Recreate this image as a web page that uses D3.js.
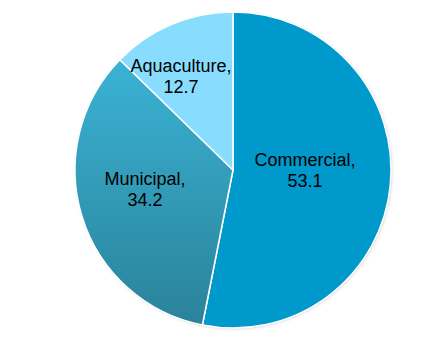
<!DOCTYPE html>
<html><head><meta charset="utf-8">
<script src="https://cdn.jsdelivr.net/npm/d3@7"></script>
<style>body{margin:0;background:#fff}svg{display:block}</style>
</head><body>
<script>
const categories = ["Commercial", "Municipal", "Aquaculture"];
const values = [53.1, 34.2, 12.7];
const colors = ["#0099cc", "url(#munGrad)", "#88ddff"];
const labelPos = [[305, 166], [145, 185], [181, 72]];

const W = 441, H = 337, cx = 233, cy = 170, R = 158;
const svg = d3.select("body").append("svg").attr("width", W).attr("height", H);
const defs = svg.append("defs");
const g1 = defs.append("linearGradient").attr("id", "munGrad")
  .attr("gradientUnits", "userSpaceOnUse").attr("x1", 0).attr("y1", -R).attr("x2", 0).attr("y2", R);
g1.append("stop").attr("offset", "0").attr("stop-color", "#3dbbdf");
g1.append("stop").attr("offset", "1").attr("stop-color", "#2a8299");
const f = defs.append("filter").attr("id", "sh").attr("x", "-10%").attr("y", "-10%").attr("width", "120%").attr("height", "120%");
f.append("feDropShadow").attr("dx", 1).attr("dy", 1).attr("stdDeviation", 1.5).attr("flood-color", "#000").attr("flood-opacity", 0.18);

const pie = d3.pie().sort(null).value(d => d)(values);
const arc = d3.arc().innerRadius(0).outerRadius(R);
const g = svg.append("g").attr("transform", `translate(${cx},${cy})`);
g.append("circle").attr("r", R).attr("fill", "#fff").attr("filter", "url(#sh)");
g.selectAll("path").data(pie).join("path")
  .attr("d", arc).attr("fill", (d, i) => colors[i])
  .attr("stroke", "#fff").attr("stroke-width", 1.5).attr("stroke-linejoin", "round");

const lab = svg.append("g").attr("font-family", "Liberation Sans, Arial, sans-serif")
  .attr("font-size", 18).attr("fill", "#000").attr("text-anchor", "middle");
categories.forEach((c, i) => {
  const t = lab.append("text").attr("x", labelPos[i][0]).attr("y", labelPos[i][1]);
  t.append("tspan").attr("x", labelPos[i][0]).attr("dy", 0).text(c + ",");
  t.append("tspan").attr("x", labelPos[i][0]).attr("dy", 21).text(values[i]);
});
</script>
</body></html>
